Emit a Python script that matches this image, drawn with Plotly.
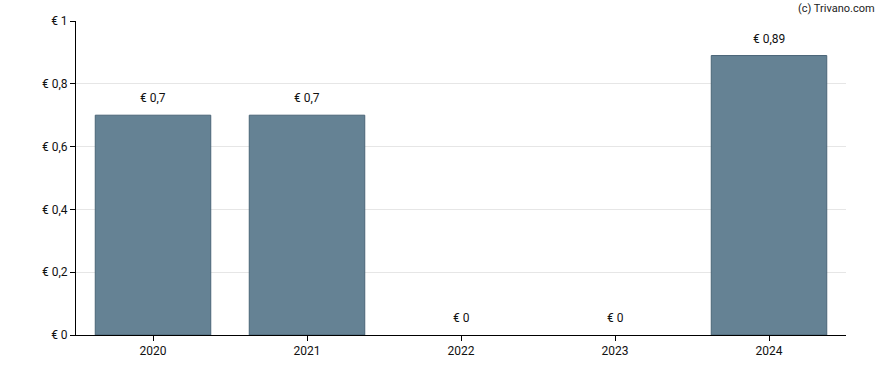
import plotly.graph_objects as go

years = ["2020", "2021", "2022", "2023", "2024"]
values = [0.7, 0.7, 0, 0, 0.89]
labels = ["€ 0,7", "€ 0,7", "€ 0", "€ 0", "€ 0,89"]
tick_vals = [0, 0.2, 0.4, 0.6, 0.8, 1]
tick_text = ["€ 0", "€ 0,2", "€ 0,4", "€ 0,6", "€ 0,8", "€ 1"]

fig = go.Figure()
fig.add_trace(go.Bar(
    x=years, y=values,
    marker=dict(color="#658294",
                line=dict(color="#4a6577", width=[1 if v > 0 else 0 for v in values])),
    hoverinfo="skip",
))
for i, (v, t) in enumerate(zip(values, labels)):
    fig.add_annotation(x=i, y=v, text=t, showarrow=False, yanchor="bottom",
                       yshift=8, font=dict(size=12, color="#111111"))
fig.add_annotation(xref="paper", yref="paper", x=1.040, y=1.041, xanchor="right",
                   yanchor="middle", text="(c) Trivano.com", showarrow=False,
                   font=dict(size=11, color="#222222"))

fig.update_layout(
    width=888, height=370,
    margin=dict(l=76, r=42, t=21, b=35),
    paper_bgcolor="white", plot_bgcolor="white",
    font=dict(family="Roboto, Arial, sans-serif", size=12, color="#111111"),
    bargap=0.25, showlegend=False,
    xaxis=dict(type="category", range=[-0.5, 4.5], showline=True, linecolor="black",
               linewidth=1, ticks="outside", ticklen=5, tickcolor="black", showgrid=False),
    yaxis=dict(range=[0, 1], tickvals=tick_vals, ticktext=tick_text,
               showline=True, linecolor="black", linewidth=1, ticks="outside",
               ticklen=5, tickcolor="black", gridcolor="#e6e6e6", zeroline=False),
)
fig.write_html("out.html", config={"displayModeBar": False},
               post_script="document.body.style.margin='0';")
